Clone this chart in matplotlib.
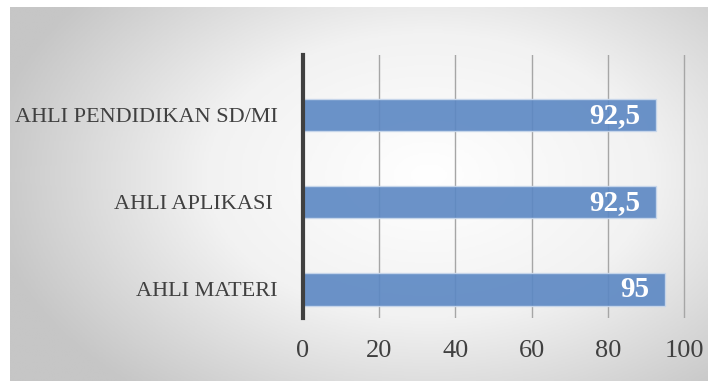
import numpy as np
import matplotlib.pyplot as plt
from matplotlib.colors import LinearSegmentedColormap

categories = ['AHLI MATERI', 'AHLI APLIKASI ', 'AHLI PENDIDIKAN SD/MI']
values = [95, 92.5, 92.5]
value_labels = ['95', '92,5', '92,5']
xticks = [0, 20, 40, 60, 80, 100]

plt.rcParams['font.family'] = ['Liberation Serif', 'DejaVu Serif']

fig = plt.figure(figsize=(7.08, 3.81), dpi=100)

# radial grey background panel
bg = fig.add_axes([10 / 708, 0, 698 / 708, 1 - 7 / 381])
bg.set_axis_off()
gx, gy = np.meshgrid(np.linspace(0, 1, 400), np.linspace(0, 1, 220))
r = np.sqrt(((gx - 0.6) / 0.75) ** 2 + ((gy - 0.55) / 0.9) ** 2)
cmap = LinearSegmentedColormap.from_list('bg', ['#ffffff', '#f2f2f2', '#c6c6c6'])
bg.imshow(r, cmap=cmap, vmin=0, vmax=0.85, aspect='auto', origin='lower',
          extent=(0, 1, 0, 1))

ax = fig.add_axes([303 / 708, 1 - 318 / 381, 383 / 708, 263 / 381])
ax.patch.set_alpha(0)
y = np.arange(len(categories))
ax.barh(y, values, height=0.37, color='#5b87c3', alpha=0.9,
        edgecolor='#c9d8ec', linewidth=1, zorder=3)
for yi, v, lab in zip(y, values, value_labels):
    ax.text(v - 4, yi, lab, ha='right', va='center', color='white',
            fontsize=21, fontweight='bold', zorder=4)

ax.set_xlim(0, 100.5)
ax.set_ylim(-0.327, 2.69)
ax.set_xticks(xticks)
ax.set_yticks(y)
ax.set_yticklabels(categories, fontsize=16)
ax.grid(axis='x', color='#a6a6a6', linewidth=1, zorder=1)
for s in ['top', 'right', 'bottom']:
    ax.spines[s].set_visible(False)
ax.spines['left'].set_color('#404040')
ax.spines['left'].set_linewidth(3)
ax.spines['left'].set_zorder(5)
ax.tick_params(axis='both', length=0, colors='#404040')
ax.tick_params(axis='x', pad=16, labelsize=19)
ax.tick_params(axis='y', pad=18)

fig.savefig('out.png', dpi=100)
